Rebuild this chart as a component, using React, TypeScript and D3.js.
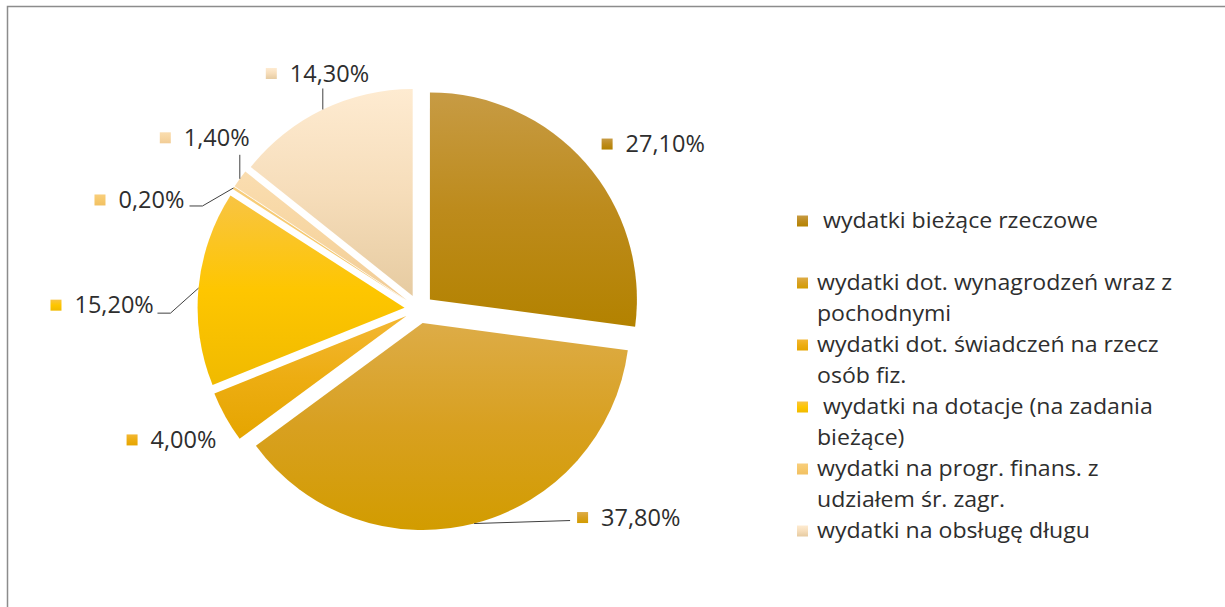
import React from "react";
import * as d3 from "d3";

const categories = [
  " wydatki bieżące rzeczowe",
  "wydatki dot. wynagrodzeń wraz z\npochodnymi",
  "wydatki dot. świadczeń na rzecz\nosób fiz.",
  " wydatki na dotacje (na zadania\nbieżące)",
  "wydatki na progr. finans. z\nudziałem śr. zagr.",
  "wydatki na obsługę długu",
];
const values = [27.1, 37.8, 4.0, 15.2, 0.2, 1.4, 14.3];

// styles
const gradTop = ["#C79B44", "#DDAC47", "#F3B733", "#F8C443", "#F8CE7C", "#FADDB0", "#FEEBD1"];
const gradMid = ["#BD8B1C", "#D8A020", "#EDAD12", "#FEC600", "#F6C86C", "#F7D6A2", "#F6DDBA"];
const gradBot = ["#B38200", "#D29C00", "#E5A500", "#F0BA00", "#F1C062", "#F1CC96", "#E6CBA1"];
const legendColors = [0, 1, 2, 3, 4, 6];

// label layout: offsets of the label's left edge (marker) from the outer bisector point of each slice
const labelOffsets = [
  { dx: 16, dy: -19 },
  { dx: 103, dy: -6 },
  { dx: -99, dy: 23 },
  { dx: -148, dy: 17 },
  { dx: -139, dy: 12 },
  { dx: -80, dy: -41 },
  { dx: -57, dy: -36 },
];
// leader lines (points relative to the outer bisector point), null = none
const leaders: ([number, number][] | null)[] = [
  null,
  [[96, -3]],
  null,
  [[-28, 25], [-41, 25]],
  [[-31, 18], [-44, 18]],
  [[0, -24]],
  [[0, -21]],
];

const W = 1225;
const H = 607;
const cx = 419;
const cy = 309;
const R = 207;
const explode = 14.5;
const FONT = "'Open Sans', 'Noto Sans', sans-serif";
const textColor = "#2e2e2e";
const legendScaleX = 1.1;

export default function App() {
  const pie = d3.pie<number>().sort(null).value((d) => d)(values);
  const arc = d3.arc<d3.PieArcDatum<number>>().innerRadius(0).outerRadius(R);
  const fmt = (v: number) => v.toFixed(2).replace(".", ",") + "%";

  const legendX = 797;
  const legendY0 = 221;
  const legendStep = 62;
  const lineH = 30.5;

  return (
    <svg
      width={W}
      height={H}
      style={{ position: "absolute", left: 0, top: 0, background: "#fff" }}
      fontFamily={FONT}
    >
      <defs>
        {values.map((_, i) => (
          <linearGradient key={i} id={`g${i}`} x1="0" y1="0" x2="0" y2="1">
            <stop offset="0" stopColor={gradTop[i]} />
            <stop offset="0.5" stopColor={gradMid[i]} />
            <stop offset="1" stopColor={gradBot[i]} />
          </linearGradient>
        ))}
      </defs>
      <rect x={7.5} y={6.5} width={W + 50} height={H + 50} fill="#fff" stroke="#8c8c8c" strokeWidth={1.5} />
      <g transform={`translate(${cx},${cy})`}>
        {pie.map((p, i) => {
          const mid = (p.startAngle + p.endAngle) / 2;
          const [ox, oy] = d3.pointRadial(mid, explode);
          return (
            <path
              key={i}
              d={arc(p) || ""}
              transform={`translate(${ox},${oy})`}
              fill={`url(#g${i})`}
              stroke="none"
            />
          );
        })}
        {pie.map((p, i) => {
          const mid = (p.startAngle + p.endAngle) / 2;
          const [ox, oy] = d3.pointRadial(mid, explode);
          const [ax, ay] = d3.pointRadial(mid, R);
          const px = ox + ax;
          const py = oy + ay;
          const off = labelOffsets[i];
          const left = px + off.dx;
          const ly = py + off.dy;
          const lead = leaders[i];
          const label = fmt(values[i]);
          const line = lead
            ? d3.line()([[px, py], ...lead.map(([a, b]) => [px + a, py + b] as [number, number])])
            : null;
          return (
            <g key={i}>
              {line && <path d={line} fill="none" stroke="#404040" strokeWidth={1} />}
              <rect x={left} y={ly - 5.5} width={11} height={11} fill={`url(#g${i})`} />
              <text x={left + 24} y={ly} dy="0.35em" fontSize={23.5} fill={textColor}>
                {label}
              </text>
            </g>
          );
        })}
      </g>
      <g>
        {categories.map((c, k) => {
          const y = legendY0 + k * legendStep;
          const lines = c.split("\n");
          return (
            <g key={k}>
              <rect x={legendX} y={y - 5.5} width={11} height={11} fill={`url(#g${legendColors[k]})`} />
              {lines.map((t, j) => (
                <text
                  key={j}
                  transform={`translate(${legendX + 20},${y + j * lineH}) scale(${legendScaleX},1)`}
                  dy="0.35em"
                  fontSize={21}
                  fill={textColor}
                  style={{ whiteSpace: "pre" }}
                >
                  {t}
                </text>
              ))}
            </g>
          );
        })}
      </g>
    </svg>
  );
}
